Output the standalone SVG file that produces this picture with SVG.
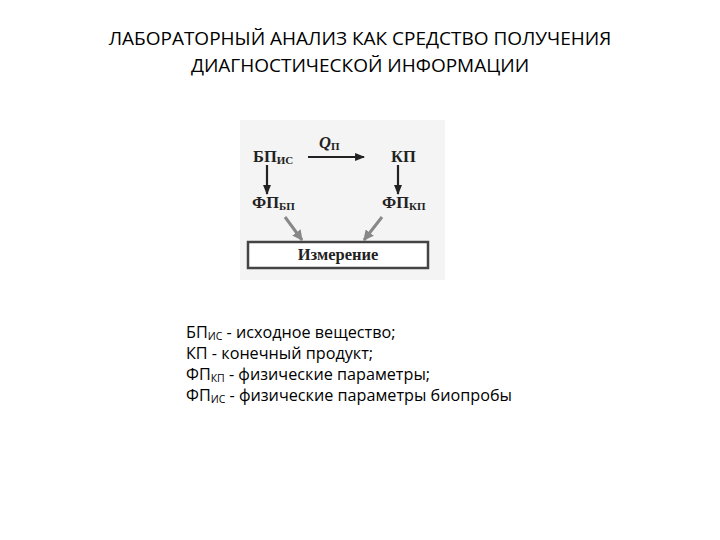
<svg xmlns="http://www.w3.org/2000/svg" width="720" height="540" viewBox="0 0 720 540">
<style>
.title{font-family:"Open Sans","Liberation Sans",sans-serif;font-size:19px;fill:#000;text-anchor:middle}
.d{font-family:"Liberation Serif",serif;font-weight:bold;fill:#222;font-size:16.5px}
.ds{font-size:11px}
.leg{font-family:"Open Sans","Liberation Sans",sans-serif;font-size:16.2px;fill:#000}
.ls{font-size:10.5px}
.arr{stroke:#222;stroke-width:2.2;fill:none}
.garr{stroke:#888;stroke-width:3;fill:none}
</style>
<defs>
<marker id="ah" viewBox="0 0 10 10" refX="9" refY="5" markerWidth="4.5" markerHeight="4.5" orient="auto" markerUnits="strokeWidth">
<path d="M0,1 L10,5 L0,9 z" fill="#222"/>
</marker>
<marker id="gh" viewBox="0 0 10 10" refX="9" refY="5" markerWidth="3.5" markerHeight="3.5" orient="auto" markerUnits="strokeWidth">
<path d="M0,0 L10,5 L0,10 z" fill="#888"/>
</marker>
</defs>
<rect width="720" height="540" fill="#fff"/>
<g id="title">
<text class="title" x="360" y="45">ЛАБОРАТОРНЫЙ АНАЛИЗ КАК СРЕДСТВО ПОЛУЧЕНИЯ</text>
<text class="title" x="360" y="72">ДИАГНОСТИЧЕСКОЙ ИНФОРМАЦИИ</text>
</g>
<rect x="240" y="120" width="205" height="160" fill="#f4f4f4"/>
<g id="connectors">
<line class="arr" x1="308" y1="157" x2="364" y2="157" marker-end="url(#ah)"/>
<line class="arr" x1="267" y1="165" x2="267" y2="194" marker-end="url(#ah)"/>
<line class="arr" x1="398" y1="165" x2="398" y2="194" marker-end="url(#ah)"/>
<line class="garr" x1="285" y1="217" x2="302" y2="240" marker-end="url(#gh)"/>
<line class="garr" x1="382" y1="217" x2="364" y2="240" marker-end="url(#gh)"/>
<text class="d" x="319" y="148" font-style="italic" font-size="18">Q<tspan class="ds" font-style="normal" dy="2">П</tspan></text>
</g>
<g id="bp">
<text class="d" x="253" y="162">БП<tspan class="ds" dy="2">ИС</tspan></text>
</g>
<g id="kp">
<text class="d" x="391" y="162">КП</text>
</g>
<g id="fpbp">
<text class="d" x="252" y="208">ФП<tspan class="ds" dy="2">БП</tspan></text>
</g>
<g id="fpkp">
<text class="d" x="382" y="208">ФП<tspan class="ds" dy="2">КП</tspan></text>
</g>
<g id="measure">
<rect x="248" y="242" width="180" height="26" fill="#fff" stroke="#444" stroke-width="2.5"/>
<text class="d" x="338" y="260" text-anchor="middle" font-size="15">Измерение</text>
</g>
<g id="legend">
<text class="leg" x="186" y="338">БП<tspan class="ls" dy="2">ИС</tspan><tspan dy="-2"> - исходное вещество;</tspan></text>
<text class="leg" x="186" y="359">КП - конечный продукт;</text>
<text class="leg" x="186" y="380">ФП<tspan class="ls" dy="2">КП</tspan><tspan dy="-2"> - физические параметры;</tspan></text>
<text class="leg" x="186" y="401">ФП<tspan class="ls" dy="2">ИС</tspan><tspan dy="-2"> - физические параметры биопробы</tspan></text>
</g>
</svg>
